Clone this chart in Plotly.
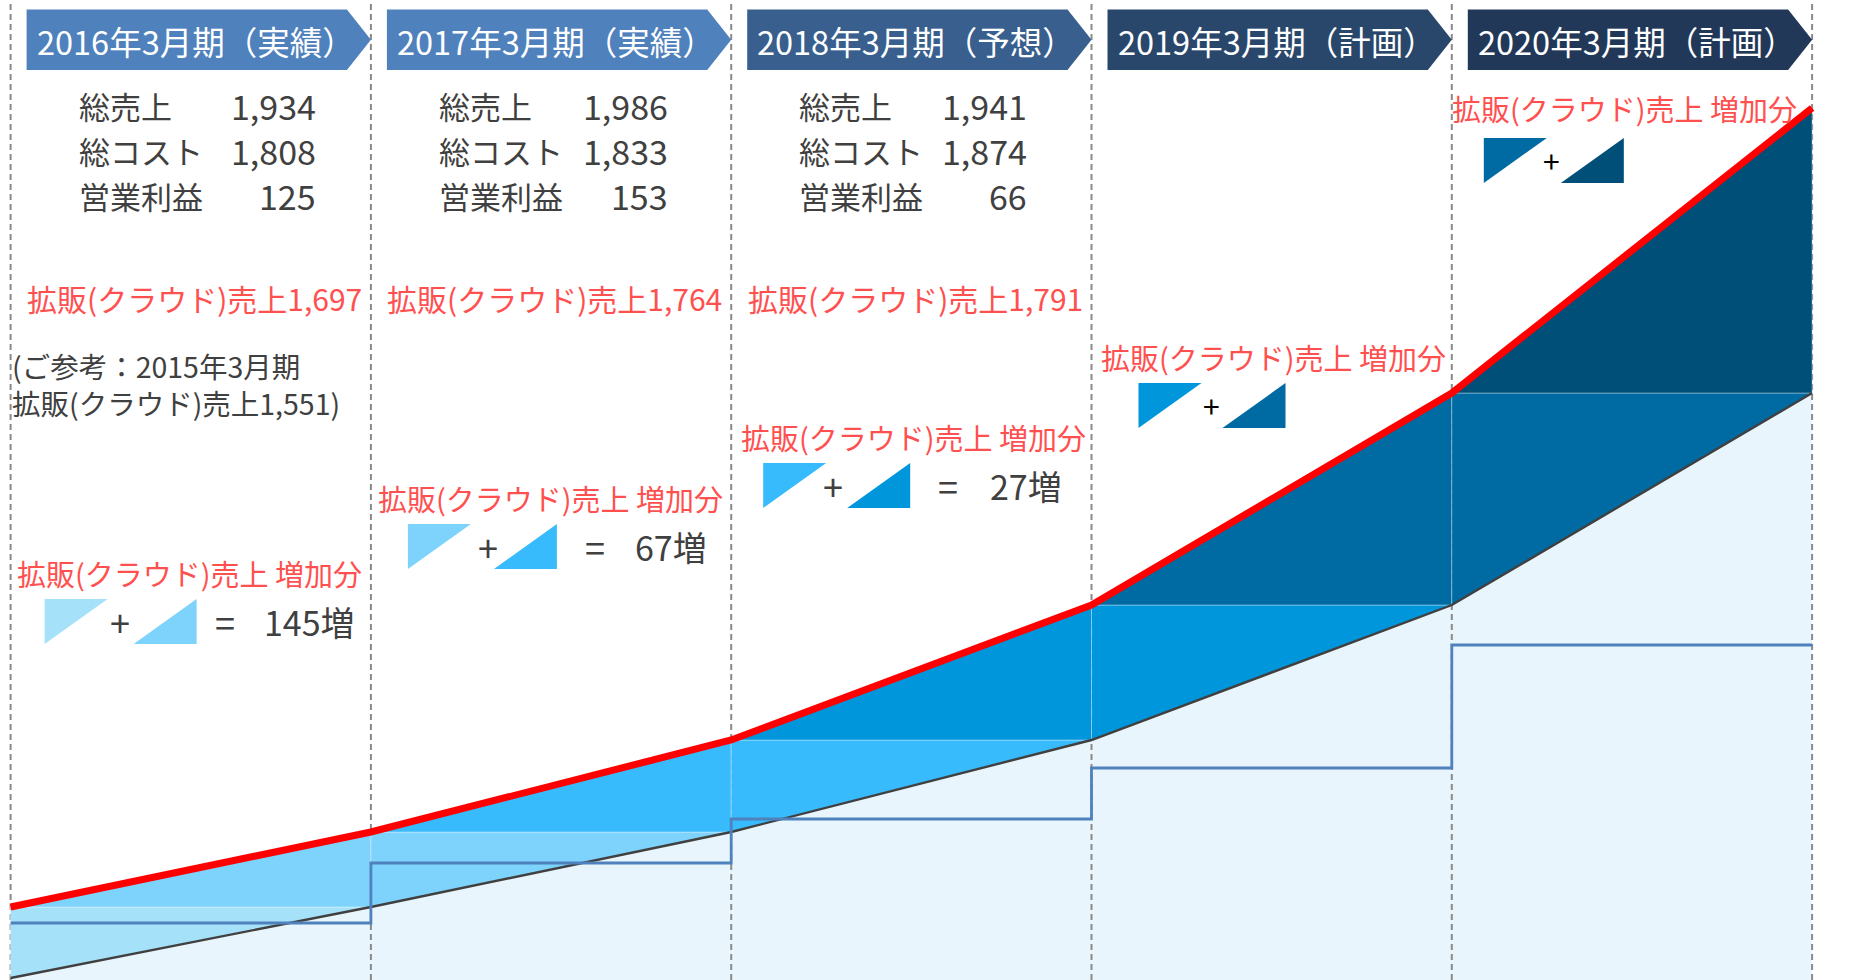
import plotly.graph_objects as go

# ---------------- data ----------------
periods = ["2016年3月期（実績）", "2017年3月期（実績）", "2018年3月期（予想）",
           "2019年3月期（計画）", "2020年3月期（計画）"]
stat_labels = ["総売上", "総コスト", "営業利益"]
total_sales = [1934, 1986, 1941]
total_cost = [1808, 1833, 1874]
op_profit = [125, 153, 66]
cloud_sales = [1697, 1764, 1791]
cloud_sales_2015 = 1551
cloud_increase = [145, 67, 27]
# schematic heights of the cloud-sales curve (chart units) at period boundaries
level_2015 = 2
cloud_level = [73, 148, 240, 375, 587, 872]
# schematic heights of the step line, one per period
step_level = [57, 117, 161, 212, 335]

# ---------------- style ----------------
W, H = 1850, 980
FONT = "Noto Sans CJK JP"
PX = 360.3          # pixels per period
X0 = 10.6           # pixel of first boundary
shade = ["#A6E1FA", "#7DD3FC", "#38BBFD", "#0096DC", "#006BA3", "#004F78"]
header_colors = ["#4F81BD", "#4F81BD", "#385F8E", "#29476B", "#223858"]
RED_TXT = "#FF5050"
DARK = "#404040"
BG = "#E8F5FD"

def xd(i, off=0.0):
    return i + off / PX

def yd(py):
    return H - py

n = len(periods)
bx = list(range(n + 1))
gray_level = [level_2015] + cloud_level[:-1]

fig = go.Figure()

# light background under the previous-year curve
fig.add_trace(go.Scatter(x=bx, y=gray_level, mode="lines", line=dict(width=0),
                         fill="tozeroy", fillcolor=BG, hoverinfo="skip"))

# dashed period separators
dx, dy = [], []
for b in bx:
    dx += [b, b, None]
    dy += [0, H, None]
fig.add_trace(go.Scatter(x=dx, y=dy, mode="lines",
                         line=dict(color="#8A8A8A", width=2, dash="6px,4px"),
                         hoverinfo="skip"))

# band fills: lower (◤) and upper (◢) part of each period
for i in range(n):
    fig.add_trace(go.Scatter(
        x=[i, i, i + 1, i], y=[gray_level[i], cloud_level[i], cloud_level[i], gray_level[i]],
        mode="lines", fill="toself", fillcolor=shade[i],
        line=dict(color="rgba(255,255,255,0.35)", width=1), hoverinfo="skip"))
    fig.add_trace(go.Scatter(
        x=[i, i + 1, i + 1, i], y=[cloud_level[i], cloud_level[i], cloud_level[i + 1], cloud_level[i]],
        mode="lines", fill="toself", fillcolor=shade[i + 1],
        line=dict(color="rgba(255,255,255,0.35)", width=1), hoverinfo="skip"))

# previous-year curve (gray)
fig.add_trace(go.Scatter(x=bx, y=gray_level, mode="lines",
                         line=dict(color="#404040", width=2.4), hoverinfo="skip"))
# step line
fig.add_trace(go.Scatter(x=bx, y=step_level + [step_level[-1]], mode="lines",
                         line=dict(color="#4F81BD", width=2.8, shape="hv"), hoverinfo="skip"))
# cloud sales curve (red)
fig.add_trace(go.Scatter(x=bx, y=cloud_level, mode="lines",
                         line=dict(color="#FF0000", width=7), hoverinfo="skip"))

shapes = []
ann = []

def text(x, y, s, size, color, xanchor="center", align="center"):
    ann.append(dict(x=x, y=y, xref="x", yref="y", text=s, showarrow=False,
                    xanchor=xanchor, yanchor="middle", align=align,
                    font=dict(family=FONT, size=size, color=color)))

# header chevrons
TOP, BOT, MID = 9.5, 70, 39.75
for i in range(n):
    L = xd(i, 16)
    B = xd(i + 1, -24)
    T = xd(i + 1, 0)
    path = (f"M {L},{yd(TOP)} L {B},{yd(TOP)} L {T},{yd(MID)} "
            f"L {B},{yd(BOT)} L {L},{yd(BOT)} Z")
    shapes.append(dict(type="path", path=path, xref="x", yref="y",
                       fillcolor=header_colors[i], line=dict(width=0), layer="above"))
    text(xd(i, 185), yd(40), periods[i], 32.5, "white")

# stats for first three periods
num_right = [307, 299, 298]
row_y = [105, 150, 195]
for i in range(len(total_sales)):
    vals = [total_sales[i], total_cost[i], op_profit[i]]
    for r in range(3):
        text(xd(i, 66), yd(row_y[r]), stat_labels[r], 31, DARK, "left")
        text(xd(i, num_right[i]), yd(row_y[r]), f"{vals[r]:,}", 34, DARK, "right")
    text(xd(i, 184), yd(298), f"拡販(クラウド)売上{cloud_sales[i]:,}", 30, RED_TXT)

# reference note
text(xd(0, -1), yd(384), f"(ご参考：2015年3月期<br>拡販(クラウド)売上{cloud_sales_2015:,})",
     28.5, DARK, "left", "left")

# increment legends
title_y = [573, 498, 437, 357, 108]
title_off = [179, 180, 182, 182, 173]
tri_top = [599, 524, 463, 383, 138]
tri1_off = [34, 37, 32, 47, 32]
tri2_off = [123, 123, 116, 131, 109]
plus_off = [109, 117, 102, 120, 100]
eq_off = [214, 224, 217]
inc_off = [251, 262, 257]
TW, TH = 63, 45
for i in range(n):
    text(xd(i, title_off[i]), yd(title_y[i]), "拡販(クラウド)売上 増加分", 29, RED_TXT)
    t = tri_top[i]
    a = tri1_off[i]
    shapes.append(dict(type="path", xref="x", yref="y", layer="above", line=dict(width=0),
                       fillcolor=shade[i],
                       path=f"M {xd(i, a)},{yd(t)} L {xd(i, a + TW)},{yd(t)} L {xd(i, a)},{yd(t + TH)} Z"))
    c = tri2_off[i]
    shapes.append(dict(type="path", xref="x", yref="y", layer="above", line=dict(width=0),
                       fillcolor=shade[i + 1],
                       path=f"M {xd(i, c)},{yd(t + TH)} L {xd(i, c + TW)},{yd(t + TH)} L {xd(i, c + TW)},{yd(t)} Z"))
    text(xd(i, plus_off[i]), yd(t + 22), "+", 36 if i < 3 else 30, DARK if i < 3 else "#000000")
    if i < len(cloud_increase):
        text(xd(i, eq_off[i]), yd(t + 22), "=", 36, DARK)
        text(xd(i, inc_off[i]), yd(t + 22), f"{cloud_increase[i]}増", 34, DARK, "left")

fig.update_layout(
    width=W, height=H, autosize=False,
    margin=dict(l=0, r=0, t=0, b=0),
    paper_bgcolor="white", plot_bgcolor="white",
    showlegend=False,
    xaxis=dict(range=[-X0 / PX, (W - X0) / PX], visible=False, fixedrange=True),
    yaxis=dict(range=[0, H], visible=False, fixedrange=True),
    shapes=shapes, annotations=ann,
    font=dict(family=FONT),
)

fig.write_html("out.html", config={"displayModeBar": False},
               post_script="document.body.style.margin='0';document.body.style.overflow='hidden';")
